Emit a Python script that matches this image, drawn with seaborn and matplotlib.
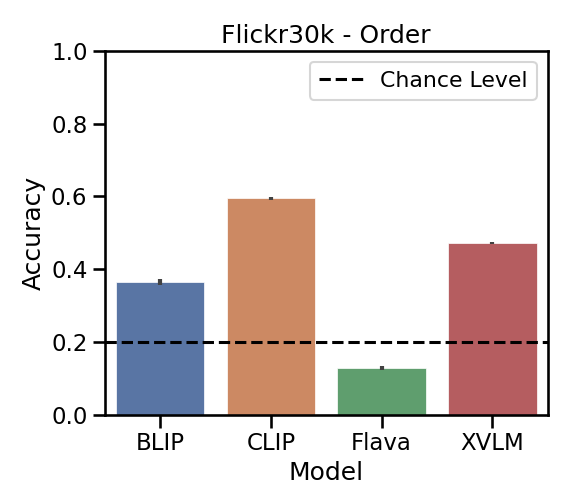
import matplotlib
matplotlib.use("Agg")
import matplotlib.pyplot as plt
import seaborn as sns
import pandas as pd
import numpy as np

models = ["BLIP", "CLIP", "Flava", "XVLM"]
accuracy = [0.365, 0.595, 0.128, 0.472]
err = [0.008, 0.004, 0.006, 0.004]
chance = 0.2

sns.set_theme(context="talk", style="ticks", palette="deep",
              rc={"text.color": "black", "axes.labelcolor": "black",
                  "axes.edgecolor": "black", "xtick.color": "black",
                  "ytick.color": "black"})
plt.rcParams['font.family'] = ['DejaVu Sans']

df = pd.DataFrame({"Model": models, "Accuracy": accuracy})

fig = plt.figure(figsize=(5.76, 5.04), dpi=100)
ax = fig.add_axes([0.182, 0.177, 0.769, 0.722])
sns.barplot(data=df, x="Model", y="Accuracy", hue="Model", palette="deep",
            errorbar=None, legend=False, width=0.8, linewidth=0.5,
            edgecolor="white", ax=ax)
ax.errorbar(np.arange(len(models)), accuracy, yerr=err, fmt="none",
            ecolor=".26", elinewidth=3, capsize=0, zorder=5)
ax.axhline(chance, color="black", linestyle="--", linewidth=2.2, label="Chance Level")
ax.set_ylim(0, 1.0)
ax.set_xlim(-0.5, 3.5)
ax.set_title("Flickr30k - Order")
fs = plt.rcParams["legend.fontsize"]
if isinstance(fs, str):
    fs = 16.5
ax.legend(loc="upper right", fontsize=fs * 0.96)
fig.savefig("out.png", dpi=100)
